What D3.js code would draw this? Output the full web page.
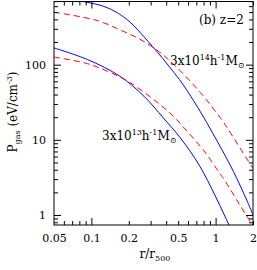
<!DOCTYPE html>
<html>
<head>
<meta charset="utf-8">
<script src="https://cdn.jsdelivr.net/npm/d3@7"></script>
<style>
  body { margin: 0; background: #fff; }
  text { font-family: "DejaVu Serif", serif; fill: #000; }
</style>
</head>
<body>
<svg id="chart" width="257" height="270"></svg>
<script>
// radius in units of r500, pressure in eV/cm^3
var bigR = [0.05, 0.0865, 0.126, 0.165, 0.207, 0.265, 0.31, 0.377, 0.45, 0.536, 0.75, 0.95, 1.15, 1.39, 1.78, 2.0];
var bigModel = [800, 690, 595, 480, 362, 235, 175, 120, 83, 57, 24, 12.2, 6.9, 3.8, 1.58, 1.0];
var bigDashR = [0.05, 0.112, 0.17, 0.237, 0.31, 0.43, 0.75, 1.12, 1.27, 1.67, 1.94, 2.0];
var bigDash = [499, 385, 290, 225, 172, 112, 43, 18.5, 13.6, 6.65, 4.5, 4.15];

var smallR = [0.05, 0.093, 0.17, 0.265, 0.38, 0.52, 0.75, 1.28, 1.4];
var smallModel = [167, 117, 70, 38, 19.5, 10.6, 4.4, 0.74, 0.53];
var smallDashR = [0.05, 0.093, 0.141, 0.204, 0.43, 0.566, 0.795, 1.09, 1.19, 1.57, 2.0];
var smallDash = [126, 103, 79, 58, 22.7, 14, 7.36, 3.5, 2.85, 1.35, 0.72];

var xMajor = [0.05, 0.1, 0.2, 0.5, 1, 2];
var xLong = [0.1, 1];
var xMinor = [0.06, 0.07, 0.08, 0.09, 0.2, 0.3, 0.4, 0.5, 0.6, 0.7, 0.8, 0.9, 2];
var yMajor = [1, 10, 100];
var yMinor = [0.8, 0.9, 2, 3, 4, 5, 6, 7, 8, 9, 20, 30, 40, 50, 60, 70, 80, 90, 200, 300, 400, 500, 600, 700];

var padL = 54, padR = 253, padT = 1.5, padB = 225;

var main = () => {
  var svg = d3.select('#chart');
  svg.append('rect').attr('width', 257).attr('height', 270).attr('fill', '#fff');

  var x = d3.scaleLog().domain([0.05, 2]).range([padL, padR]);
  var y = d3.scaleLog().domain([0.736, 692]).range([padB, padT]);

  svg.append('clipPath').attr('id', 'plotclip').append('rect')
    .attr('x', padL).attr('y', padT).attr('width', padR - padL).attr('height', padB - padT);

  var line = d3.line().x((d) => x(d[0])).y((d) => y(d[1])).curve(d3.curveCatmullRom.alpha(0.5));
  var plot = svg.append('g').attr('clip-path', 'url(#plotclip)');

  var curves = [
    [bigR, bigModel, '#0000ff', null],
    [bigDashR, bigDash, '#ff0000', '6,4'],
    [smallR, smallModel, '#0000ff', null],
    [smallDashR, smallDash, '#ff0000', '6,4']
  ];
  curves.forEach((c) => {
    plot.append('path').datum(d3.zip(c[0], c[1]))
      .attr('d', line).attr('fill', 'none').attr('stroke', c[2]).attr('stroke-width', 1)
      .attr('stroke-dasharray', c[3]);
  });

  // ticks on all four sides, pointing inward
  var fmt = (d) => String(d);
  var addAxis = (axis, tx, ty) => {
    var g = svg.append('g').attr('transform', 'translate(' + tx + ',' + ty + ')').call(axis);
    g.select('.domain').remove();
    g.selectAll('line').attr('stroke', '#000');
    g.selectAll('text').attr('font-size', 11).attr('font-family', '"DejaVu Serif", serif');
    return g;
  };

  addAxis(d3.axisBottom(x).tickValues(xMinor).tickSizeInner(-4).tickSizeOuter(0).tickFormat(''), 0, padB);
  addAxis(d3.axisBottom(x).tickValues(xLong).tickSizeInner(-7).tickSizeOuter(0).tickFormat(''), 0, padB);
  addAxis(d3.axisBottom(x).tickValues(xMajor).tickSize(0).tickPadding(9).tickFormat(fmt), 0, padB);
  addAxis(d3.axisTop(x).tickValues(xMinor).tickSizeInner(-4).tickSizeOuter(0).tickFormat(''), 0, padT);
  addAxis(d3.axisTop(x).tickValues(xLong).tickSizeInner(-7).tickSizeOuter(0).tickFormat(''), 0, padT);

  addAxis(d3.axisLeft(y).tickValues(yMinor).tickSizeInner(-4).tickSizeOuter(0).tickFormat(''), padL, 0);
  addAxis(d3.axisLeft(y).tickValues(yMajor).tickSizeInner(-7).tickSizeOuter(0).tickPadding(8).tickFormat(fmt), padL, 0);
  addAxis(d3.axisRight(y).tickValues(yMinor).tickSizeInner(-4).tickSizeOuter(0).tickFormat(''), padR, 0);
  addAxis(d3.axisRight(y).tickValues(yMajor).tickSizeInner(-7).tickSizeOuter(0).tickFormat(''), padR, 0);

  svg.append('rect').attr('x', padL).attr('y', padT).attr('width', padR - padL).attr('height', padB - padT)
    .attr('fill', 'none').attr('stroke', '#000').attr('stroke-width', 1);

  svg.append('text').attr('x', 199).attr('y', 24).attr('font-size', 12).text('(b) z=2');

  var massLabel = (tx, ty, exp) => {
    var t = svg.append('text').attr('x', tx).attr('y', ty).attr('font-size', 12);
    t.append('tspan').text('3x10');
    t.append('tspan').attr('font-size', 8).attr('dy', -5).text(exp);
    t.append('tspan').attr('dy', 5).text('h');
    t.append('tspan').attr('font-size', 8).attr('dy', -5).text('-1');
    t.append('tspan').attr('dy', 5).text('M');
    t.append('tspan').attr('font-size', 8).attr('dy', 3).text('\u2299');
  };
  massLabel(170, 65, '14');
  massLabel(102, 140, '13');

  var xl = svg.append('text').attr('x', 155).attr('y', 258).attr('text-anchor', 'middle').attr('font-size', 12);
  xl.append('tspan').text('r/r');
  xl.append('tspan').attr('font-size', 8).attr('dy', 3).text('500');

  var yl = svg.append('text').attr('transform', 'translate(17,112) rotate(-90)')
    .attr('text-anchor', 'middle').attr('font-size', 12);
  yl.append('tspan').text('P');
  yl.append('tspan').attr('font-size', 8).attr('dy', 3).text('gas');
  yl.append('tspan').attr('dy', -3).text(' (eV/cm');
  yl.append('tspan').attr('font-size', 8).attr('dy', -5).text('-3');
  yl.append('tspan').attr('dy', 5).text(')');
};

main();
</script>
</body>
</html>
